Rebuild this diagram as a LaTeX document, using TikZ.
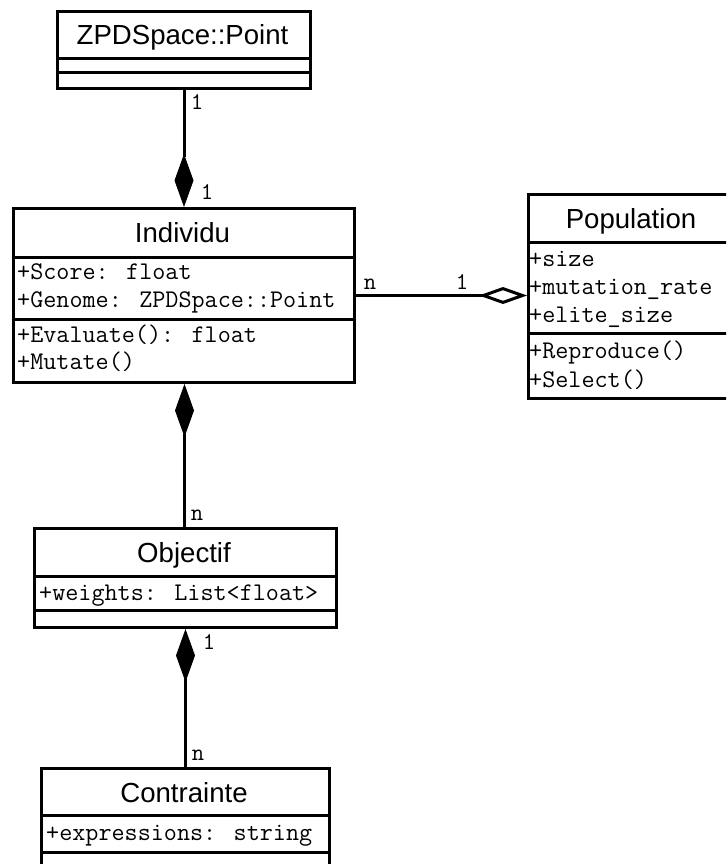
\documentclass[tikz,border=0pt]{standalone}
\usepackage{fontspec}
\setmainfont{Liberation Sans}
\usetikzlibrary{arrows.meta}
\tikzset{
  classbox/.style={draw=black, line width=3pt, fill=white, rectangle, inner sep=0pt, anchor=north west},
  sepline/.style={line width=3pt},
  title/.style={font=\fontsize{27.6}{30}\selectfont, inner sep=0pt, anchor=base},
  member/.style={font=\ttfamily\fontsize{25.4}{27}\selectfont, inner sep=0pt, anchor=base west},
  mult/.style={font=\ttfamily\fontsize{24}{26}\selectfont, inner sep=0pt, anchor=base},
  comp/.style={line width=3pt, -{Diamond[length=53pt, width=19pt, line width=1pt]}},
  agg/.style={line width=3pt, -{Diamond[open, length=48pt, width=17pt, line width=3pt, fill=white]}},
}
\begin{document}
\begin{tikzpicture}[x=1pt, y=-1pt]
\useasboundingbox (0,0) rectangle (726,864);
\clip (0,0) rectangle (726,864);
% ZPDSpace::Point
\node[classbox, minimum width=253pt, minimum height=77pt] (zpd) at (56,10) {};
\draw[sepline] (56,59) -- (309,59);
\draw[sepline] (56,73) -- (309,73);
\node[title] (zpdt) at (182.5,45) {ZPDSpace::Point};
% Individu
\node[classbox, minimum width=341pt, minimum height=174pt] (ind) at (12,207) {};
\draw[sepline] (12,257) -- (353,257);
\draw[sepline] (12,319) -- (353,319);
\node[title] (indt) at (182.5,242) {Individu};
\node[member] (ind1) at (17,279) {+Score: float};
\node[member] (ind2) at (17,307) {+Genome: ZPDSpace::Point};
\node[member] (ind3) at (17,342) {+Evaluate(): float};
\node[member] (ind4) at (17,369) {+Mutate()};
% Population
\node[classbox, minimum width=214pt, minimum height=204pt] (pop) at (527,193) {};
\draw[sepline] (527,242) -- (741,242);
\draw[sepline] (527,333) -- (741,333);
\node[title] (popt) at (631,228) {Population};
\node[member] (pop1) at (529,266) {+size};
\node[member] (pop2) at (529,294) {+mutation\_rate};
\node[member] (pop3) at (529,322) {+elite\_size};
\node[member] (pop4) at (529,358) {+Reproduce()};
\node[member] (pop5) at (529,387) {+Select()};
% Objectif
\node[classbox, minimum width=302pt, minimum height=99pt] (obj) at (33,527) {};
\draw[sepline] (33,576) -- (335,576);
\draw[sepline] (33,610) -- (335,610);
\node[title] (objt) at (184,562) {Objectif};
\node[member] (obj1) at (39,600) {+weights: List<float>};
% Contrainte
\node[classbox, minimum width=288pt, minimum height=113pt] (con) at (40,767) {};
\draw[sepline] (40,815) -- (328,815);
\draw[sepline] (40,852) -- (328,852);
\node[title] (cont) at (184,802) {Contrainte};
\node[member] (con1) at (46,840) {+expressions: string};
% connectors
\draw[comp] ([xshift=0.5pt]obj.north -| ind.south) -- ([xshift=0.5pt]ind.south);
\draw[comp] (zpd.south) -- (ind.north);
\draw[comp] (con.north) -- (con.north |- obj.south);
\draw[agg] (ind.east) -- (ind.east -| pop.west);
% multiplicities
\node[mult] (m1) at (197,110) {1};
\node[mult] (m2) at (207,199) {1};
\node[mult] (m3) at (370,289) {n};
\node[mult] (m4) at (462,289) {1};
\node[mult] (m5) at (197,520) {n};
\node[mult] (m6) at (209,649) {1};
\node[mult] (m7) at (198,760) {n};
\end{tikzpicture}
\end{document}
